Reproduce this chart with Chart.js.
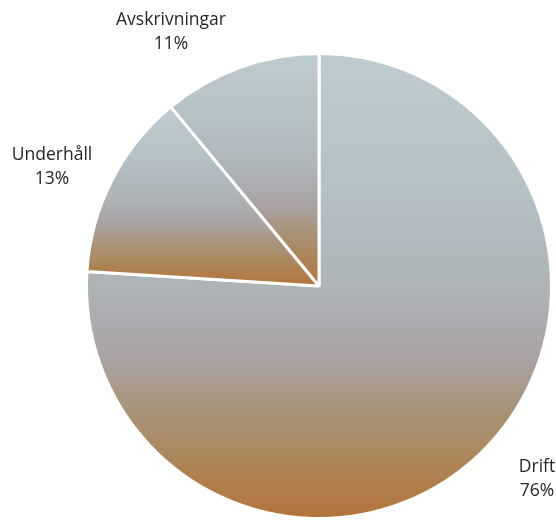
<!DOCTYPE html>
<html>
<head>
<meta charset="utf-8">
<script src="https://cdn.jsdelivr.net/npm/chart.js@4"></script>
<style>
  html, body { margin: 0; padding: 0; background: #fff; }
  #wrap { width: 556px; height: 522px; position: relative; }
</style>
</head>
<body>
<div id="wrap"><canvas id="pieChart"></canvas></div>
<script>
// ── data ──
const categories = ['Drift', 'Underhåll', 'Avskrivningar'];
const shares = [76, 13, 11];

// label placement (text centre x, first baseline y, px) – style only
const labelPos = [
  { x: 537, y: 472 },
  { x: 52, y: 160 },
  { x: 171, y: 25 }
];

// texture-like vertical gradient, grey-blue on top to brown-orange at bottom
const gradStops = [
  [0.00, '#bdccd0'],
  [0.30, '#b4c1c5'],
  [0.52, '#adb2b6'],
  [0.65, '#aaa2a5'],
  [0.78, '#a89274'],
  [0.90, '#ae8252'],
  [1.00, '#b4743a']
];

function sliceGradient(ctx) {
  const chart = ctx.chart;
  const area = chart.chartArea;
  const ctrl = chart.getDatasetMeta(0).controller;
  if (!area || !ctrl || !ctrl.outerRadius) return '#aab0b4';
  const cx = (area.left + area.right) / 2;
  const cy = (area.top + area.bottom) / 2;
  const r = ctrl.outerRadius;
  const total = shares.reduce((a, b) => a + b, 0);
  let start = 0;
  for (let i = 0; i < ctx.dataIndex; i++) start += shares[i] / total * Math.PI * 2;
  const end = start + shares[ctx.dataIndex] / total * Math.PI * 2;
  let minY = cy, maxY = cy;
  for (let k = 0; k <= 60; k++) {
    const a = start + (end - start) * k / 60;
    const y = cy - r * Math.cos(a);
    minY = Math.min(minY, y);
    maxY = Math.max(maxY, y);
  }
  const g = chart.ctx.createLinearGradient(0, minY, 0, maxY);
  gradStops.forEach(s => g.addColorStop(s[0], s[1]));
  return g;
}

const labelPlugin = {
  id: 'sliceLabels',
  afterDraw(chart) {
    const c = chart.ctx;
    c.save();
    c.fillStyle = '#262626';
    c.font = '17.5px "Open Sans", sans-serif';
    c.textAlign = 'center';
    c.textBaseline = 'alphabetic';
    categories.forEach((name, i) => {
      const p = labelPos[i];
      c.fillText(name, p.x, p.y);
      c.fillText(shares[i] + '%', p.x, p.y + 24);
    });
    c.restore();
  }
};

new Chart(document.getElementById('pieChart'), {
  type: 'pie',
  data: {
    labels: categories,
    datasets: [{
      data: shares,
      backgroundColor: sliceGradient,
      borderColor: '#ffffff',
      borderWidth: 3
    }]
  },
  options: {
    responsive: true,
    maintainAspectRatio: false,
    animation: false,
    events: [],
    layout: { padding: { left: 85, right: 3, top: 52, bottom: 2 } },
    plugins: { legend: { display: false }, tooltip: { enabled: false } }
  },
  plugins: [labelPlugin]
});
</script>
</body>
</html>
